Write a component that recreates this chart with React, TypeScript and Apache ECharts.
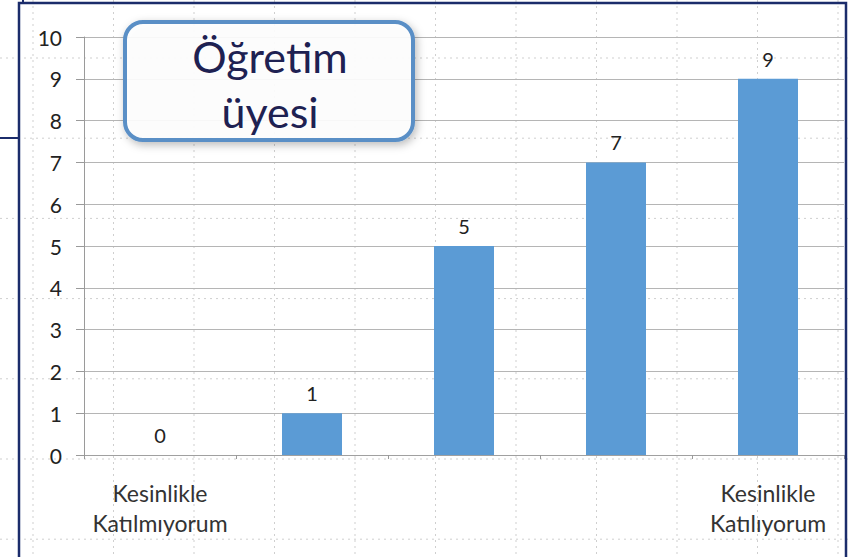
import React, { useEffect, useRef } from "react";
import * as echarts from "echarts";

const categories = ["Kesinlikle\nKatılmıyorum", "", "", "", "Kesinlikle\nKatılıyorum"];
const values = [0, 1, 5, 7, 9];
const yTicks = [0, 1, 2, 3, 4, 5, 6, 7, 8, 9, 10];
const boxTitle = "Öğretim\nüyesi";

const FONT = "Lato, 'Open Sans', sans-serif";

export default function App() {
  const ref = useRef<HTMLDivElement>(null);
  useEffect(() => {
    if (!ref.current) return;
    const chart = echarts.init(ref.current, undefined, { renderer: "svg" });

    const bg: any[] = [];
    // decorative dotted paper grid of the slide
    for (let i = 0; i < 11; i++) {
      const x = 33 + i * 80.5;
      bg.push({
        type: "line", silent: true, z: -10,
        shape: { x1: x, y1: 0, x2: x, y2: 557 },
        style: { stroke: "#cfcfcf", lineWidth: 1, lineDash: [2, 4] },
      });
    }
    for (let j = 0; j < 7; j++) {
      const y = 58 + j * 80.2;
      bg.push({
        type: "line", silent: true, z: -10,
        shape: { x1: 0, y1: y, x2: 848, y2: y },
        style: { stroke: "#cfcfcf", lineWidth: 1, lineDash: [2, 4] },
      });
    }

    chart.setOption({
      animation: false,
      backgroundColor: "#ffffff",
      grid: { left: 84, right: 4, top: 37, bottom: 102, containLabel: false },
      xAxis: {
        type: "category",
        data: categories,
        axisLine: { show: true, lineStyle: { color: "#a0a0a0", width: 1 } },
        axisTick: { show: true, alignWithLabel: false, interval: 0, length: 4, lineStyle: { color: "#999" } },
        axisLabel: {
          interval: 0, fontFamily: FONT, fontSize: 23, color: "#333",
          lineHeight: 30, margin: 23,
        },
        splitLine: { show: false },
      },
      yAxis: {
        type: "value",
        min: 0, max: 10, interval: 1,
        axisLine: { show: true, lineStyle: { color: "#9a9a9a", width: 1 } },
        axisTick: { show: true, length: 8, lineStyle: { color: "#9a9a9a" } },
        axisLabel: {
          fontFamily: FONT, fontSize: 21, color: "#222", margin: 22,
          formatter: (v: number) => (yTicks.includes(v) ? String(v) : ""),
        },
        splitLine: { show: true, lineStyle: { color: "#b5b5b5", width: 1 } },
      },
      series: [
        {
          type: "bar",
          data: values,
          barWidth: 60,
          itemStyle: { color: "#5b9bd5" },
          label: {
            show: true, position: "top", distance: 10,
            fontFamily: FONT, fontSize: 20, color: "#222",
          },
        },
      ],
      graphic: [
        ...bg,
        // slide frames
        {
          type: "rect", silent: true, z: 50,
          shape: { x: 19, y: 3, width: 827, height: 570 },
          style: { fill: "none", stroke: "#1b2c6b", lineWidth: 2.5 },
        },
        {
          type: "line", silent: true, z: 50,
          shape: { x1: 0, y1: 138, x2: 19, y2: 138 },
          style: { stroke: "#1b2c6b", lineWidth: 2 },
        },
        {
          type: "line", silent: true, z: 50,
          shape: { x1: 23, y1: 0, x2: 23, y2: 3 },
          style: { stroke: "#1b2c6b", lineWidth: 2 },
        },
        // title box
        {
          type: "rect", z: 60,
          shape: { x: 125, y: 22, width: 288, height: 118, r: 18 },
          style: {
            fill: "rgba(255,255,255,0.9)", stroke: "#5a8fc6", lineWidth: 4,
            shadowBlur: 8, shadowColor: "rgba(0,0,0,0.28)", shadowOffsetY: 3, shadowOffsetX: 2,
          },
        },
        {
          type: "text", z: 61,
          x: 270, y: 84,
          style: {
            text: boxTitle, fontFamily: FONT, fontSize: 43, lineHeight: 55,
            fill: "#1e2152", align: "center", verticalAlign: "middle",
          },
        },
      ],
    });
    return () => chart.dispose();
  }, []);
  return (
    <div
      ref={ref}
      style={{ position: "fixed", left: 0, top: 0, width: 848, height: 557 }}
    />
  );
}
